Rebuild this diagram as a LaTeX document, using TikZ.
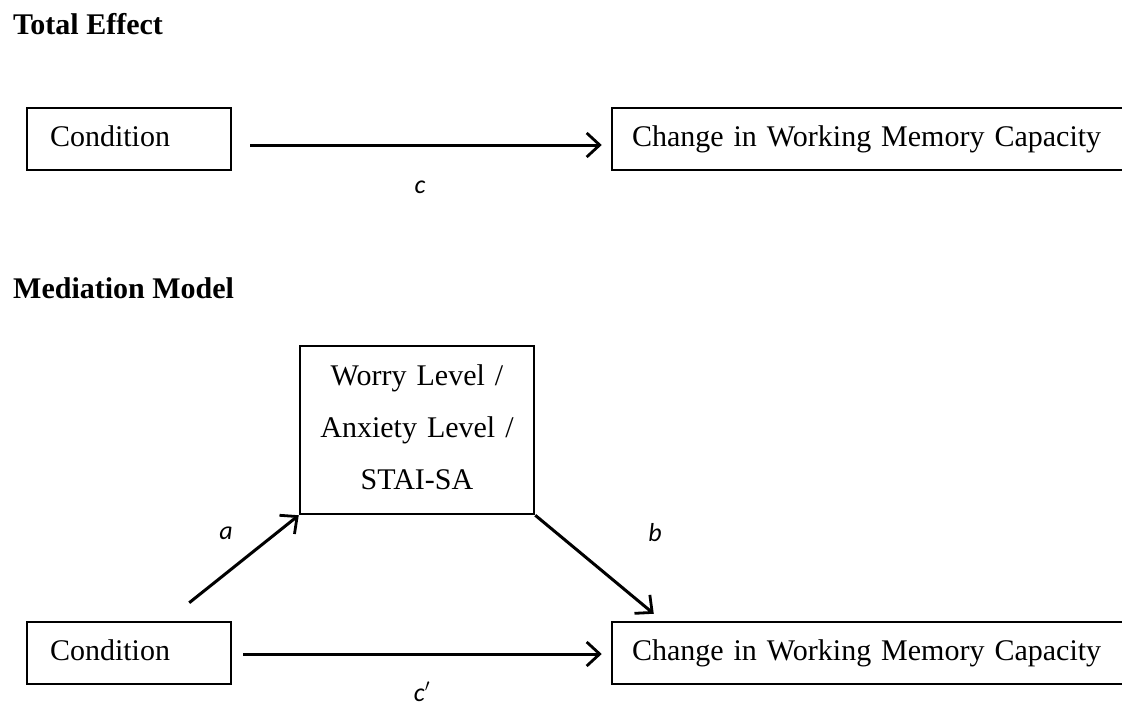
\documentclass[tikz,border=0pt]{standalone}
\usepackage{fontspec}
\setmainfont{Liberation Serif}
\newfontfamily\labfont{Carlito}
\usetikzlibrary{arrows.meta}
\begin{document}
\begin{tikzpicture}[x=1pt,y=-1pt,
  box/.style={draw, line width=2.5pt, inner ysep=0pt, font=\fontsize{30}{36}\selectfont,
              text height=20pt, text depth=6pt, align=left, minimum height=62pt},
  worry/.style={draw, line width=2.5pt, inner sep=0pt, align=center, text width=220pt,
                font=\fontsize{30}{52}\selectfont, text height=21pt, text depth=111pt,
                minimum width=234pt, minimum height=168pt},
  arr/.style={line width=3pt, -{Straight Barb[length=13pt,width=24pt,line width=2.8pt]}},
  lab/.style={font=\labfont\itshape\fontsize{26}{28}\selectfont, inner sep=0pt, anchor=base},
  head/.style={font=\bfseries\fontsize{30}{36}\selectfont, anchor=base west, inner sep=0pt}]
\useasboundingbox (0,0) rectangle (1122,709);
\node[head] (t1) at (13,35) {Total Effect};
\node[head] (t2) at (13,298) {Mediation Model};
% total effect
\node[box, inner xsep=23pt, text width=158pt] (c1) at (129,139) {Condition};
\node[box, inner xsep=20pt, text width=475pt] (m1) at (869.5,139) {Change in Working Memory Capacity};
\draw[arr] ([shift={(18,6)}]c1.east) -- ([shift={(-9,6)}]m1.west);
\node[lab] (lc) at (420,193) {c};
% mediation model
\node[worry] (w) at (417,430) {Worry Level /\\Anxiety Level /\\STAI-SA};
\node[box, inner xsep=23pt, text width=158pt] (c2) at (129,653) {Condition};
\node[box, inner xsep=20pt, text width=475pt] (m2) at (869.5,653) {Change in Working Memory Capacity};
\draw[arr] ([shift={(11,1)}]c2.east) -- ([shift={(-9,1)}]m2.west);
\draw[arr] ([shift={(-43,-18)}]c2.north east) -- (w.south west);
\draw[arr] (w.south east) -- ([shift={(43,-7)}]m2.north west);
\node[lab] (la) at (226,539) {a};
\node[lab] (lb) at (655,541) {b};
\node[lab] (lc2) at (422,701) {c$'$};
\end{tikzpicture}
\end{document}
